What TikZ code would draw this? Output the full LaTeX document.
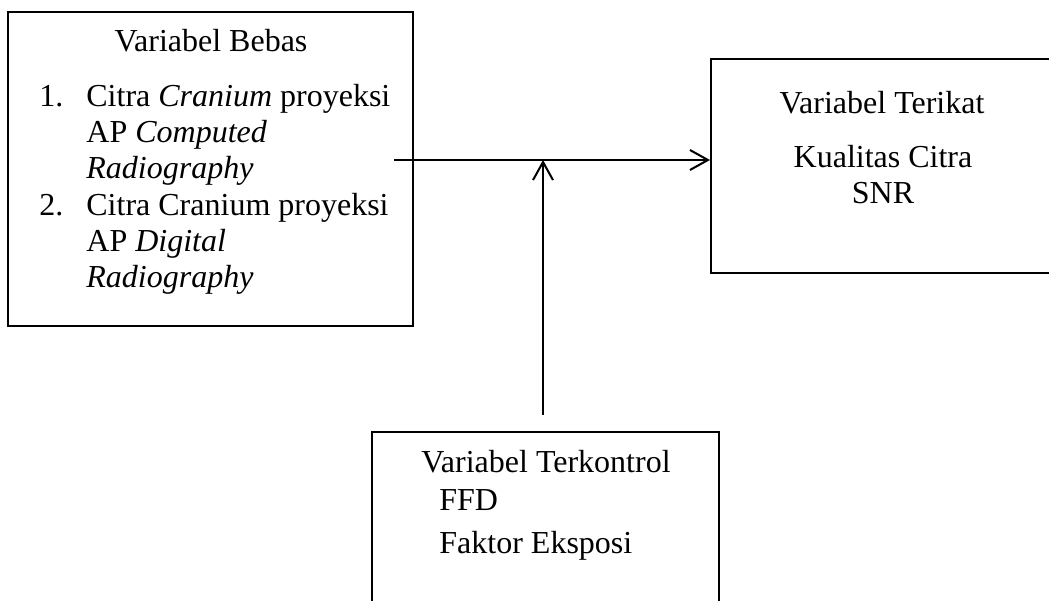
\documentclass[tikz,border=0pt]{standalone}
\usepackage{fontspec}
\setmainfont{Liberation Serif}
\usetikzlibrary{arrows.meta}
\tikzset{
  varbox/.style={draw=black, line width=1pt, rectangle, inner sep=0pt},
  label/.style={inner sep=0pt, font=\fontsize{16}{18}\selectfont},
  listtext/.style={label, align=left, anchor=base west},
  link/.style={-{Straight Barb[length=9pt,width=10pt]}, line width=1pt, draw=black}
}
\begin{document}
\begin{tikzpicture}[x=0.5pt,y=-0.5pt]
    \useasboundingbox (0,0) rectangle (1049,600);
    \clip (0,0) rectangle (1049,600);
    % boxes
    \node[varbox, minimum width=202.5pt, minimum height=157pt] (bebas) at (210.5,169) {};
    \node[varbox, minimum width=174.5pt, minimum height=107pt] (terikat) at (885.5,166) {};
    \node[varbox, minimum width=173.5pt, minimum height=104pt] (kontrol) at (545.5,536) {};
    % variabel bebas (multi-line nodes sit on their last line)
    \node[label, anchor=base] (bebasT) at (211,51) {Variabel Bebas};
    \node[label, anchor=base west] (n1) at (39,106) {1.};
    \node[listtext] (i1) at (86,178) {Citra \textit{Cranium} proyeksi\\AP \textit{Computed}\\\textit{Radiography}};
    \node[label, anchor=base west] (n2) at (39,215) {2.};
    \node[listtext] (i2) at (86,287) {Citra Cranium proyeksi\\AP \textit{Digital}\\\textit{Radiography}};
    % variabel terikat
    \node[label, anchor=base] (terikatT) at (882,113) {Variabel Terikat};
    \node[label, anchor=base, align=center] (snr) at (883,203) {Kualitas Citra\\SNR};
    % variabel terkontrol
    \node[label, anchor=base] (kontrolT) at (546,472) {Variabel Terkontrol};
    \node[label, anchor=base west] (ffd) at (439,510) {FFD};
    \node[label, anchor=base west] (eks) at (439,553) {Faktor Eksposi};
    % connectors
    \coordinate (hs) at (394,160);
    \coordinate (join) at (543,160);
    \coordinate (vs) at (543,415);
    \draw[link] (hs) -- (terikat.west |- hs);
    \draw[link] (vs) -- (join);
\end{tikzpicture}
\end{document}
